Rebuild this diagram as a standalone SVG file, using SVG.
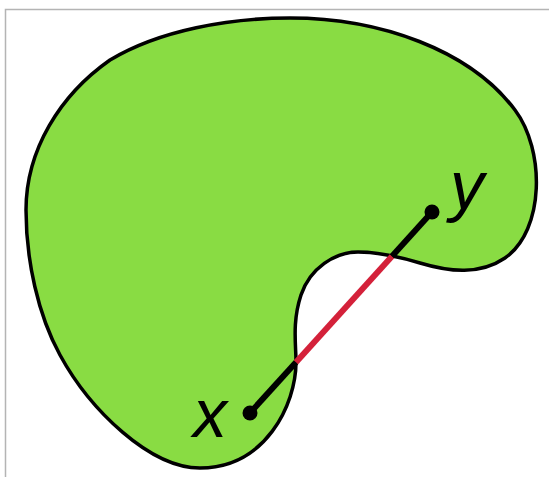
<svg xmlns="http://www.w3.org/2000/svg" width="549" height="477" viewBox="0 0 549 477">
<style>
.lbl{font-family:"Liberation Sans",Arial,sans-serif;font-style:italic;font-size:68px;fill:#000}
.seg{stroke-width:6;stroke-linecap:butt;fill:none}
</style>
<rect width="549" height="477" fill="#fff"/>
<path d="M5.5 477 V9.5 H549" fill="none" stroke="#b4b4b4" stroke-width="1.5"/>
<g id="region">
<path d="M290 18 C380 18 470 50 515 110 C545 150 545 230 505 258 C480 275 450 272 420 263 C400 257 380 252 358 252 C335 252 310 268 301 295 C292 322 296 345 296 362 C296 405 265 468 200 468 C150 468 90 410 60 355 C38 315 26 260 26 210 C26 150 60 95 110 60 C160 30 230 18 290 18 Z" fill="#89dc43" stroke="#000" stroke-width="3.5"/>
</g>
<g id="connectors">
<line class="seg" x1="250" y1="413" x2="296" y2="362.2" stroke="#000"/>
<line class="seg" x1="296" y1="362.2" x2="392" y2="256.2" stroke="#d4213a"/>
<line class="seg" x1="392" y1="256.2" x2="432" y2="212" stroke="#000"/>
</g>
<g id="node-x">
<circle cx="250" cy="413" r="7.5" fill="#000"/>
<text class="lbl" x="193" y="437">x</text>
</g>
<g id="node-y">
<circle cx="432" cy="212" r="7.5" fill="#000"/>
<text class="lbl" x="450" y="209">y</text>
</g>
</svg>
